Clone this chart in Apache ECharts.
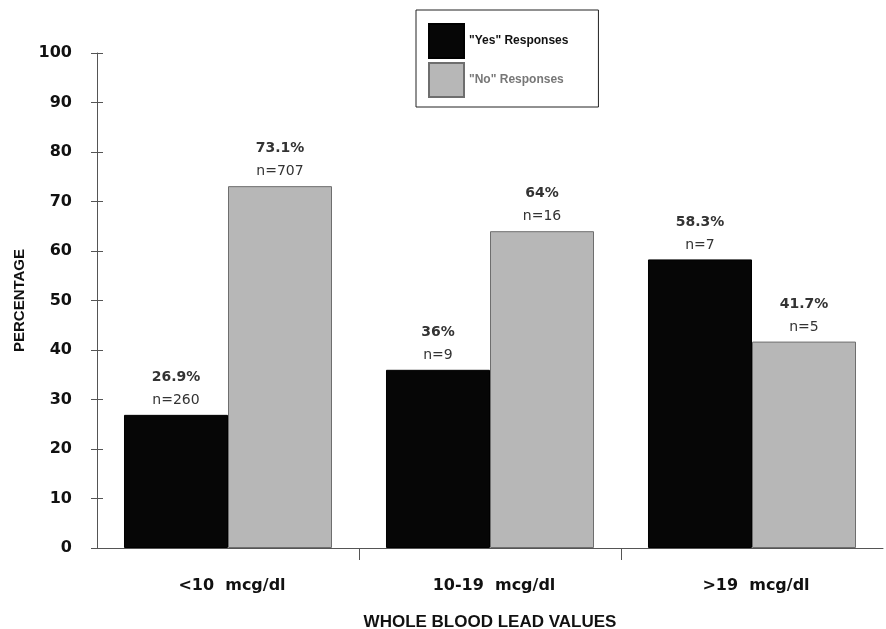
<!DOCTYPE html>
<html>
<head>
<meta charset="utf-8">
<script src="https://cdn.jsdelivr.net/npm/echarts@6/dist/echarts.min.js"></script>
<style>
  html, body { margin: 0; padding: 0; background: #fff; }
  #chart { width: 886px; height: 629px; }
</style>
</head>
<body>
<div id="chart"></div>
<script>
// Blood lead level groups and response shares
const categories = ['<10  mcg/dl', '10-19  mcg/dl', '>19  mcg/dl'];
const yesValues = [26.9, 36, 58.3];
const noValues = [73.1, 64, 41.7];
const yesCounts = [260, 9, 7];
const noCounts = [707, 16, 5];
const yTicks = [0, 10, 20, 30, 40, 50, 60, 70, 80, 90, 100];

const chart = echarts.init(document.getElementById('chart'), null, { renderer: 'canvas' });

const sans = '"Liberation Sans", Arial, sans-serif';
const wide = '"DejaVu Sans", Verdana, sans-serif';

function barLabel(counts) {
  return {
    show: true,
    position: 'top',
    distance: 3,
    formatter: p => '{p|' + p.value + '%}\n{n|n=' + counts[p.dataIndex] + '}',
    rich: {
      p: { fontFamily: wide, fontWeight: 'bold', fontSize: 14, color: '#333', lineHeight: 23 },
      n: { fontFamily: wide, fontSize: 14, color: '#333', lineHeight: 23 }
    }
  };
}

chart.setOption({
  animation: false,
  backgroundColor: '#fff',
  grid: { left: 97, top: 53, width: 786, height: 495, containLabel: false, outerBoundsMode: 'none' },
  legend: {
    orient: 'vertical',
    left: 416,
    top: 10,
    padding: [13, 30, 9, 12],
    itemGap: 3,
    itemWidth: 35,
    itemHeight: 34,
    icon: 'rect',
    borderColor: '#222',
    borderWidth: 1,
    textStyle: { fontFamily: sans, fontWeight: 'bold', fontSize: 12, color: '#111' },
    data: [
      { name: '"Yes" Responses' },
      { name: '"No" Responses', textStyle: { color: '#777' } }
    ]
  },
  xAxis: [
    {
      type: 'category',
      data: categories,
      name: 'WHOLE BLOOD LEAD VALUES',
      nameLocation: 'middle',
      nameGap: 66,
      nameTextStyle: { fontFamily: sans, fontWeight: 'bold', fontSize: 17, color: '#111' },
      axisLine: { lineStyle: { color: '#555', width: 1 } },
      axisTick: { show: false },
      axisLabel: {
        margin: 30,
        padding: [0, 0, 0, 8],
        fontFamily: wide,
        fontWeight: 'bold',
        fontSize: 16,
        color: '#111'
      }
    },
    {
      // boundary ticks between the groups only
      type: 'value',
      position: 'bottom',
      min: 0,
      max: 3,
      interval: 1,
      axisLine: { show: false },
      axisTick: { show: true, length: 12, customValues: [1, 2], lineStyle: { color: '#555' } },
      axisLabel: { show: false },
      splitLine: { show: false }
    }
  ],
  yAxis: [
    {
      type: 'value',
      min: 0,
      max: 100,
      interval: 10,
      name: 'PERCENTAGE',
      nameLocation: 'middle',
      nameGap: 70,
      nameTextStyle: { fontFamily: sans, fontWeight: 'bold', fontSize: 15, color: '#111' },
      axisLine: { show: true, lineStyle: { color: '#555', width: 1 } },
      axisTick: { show: true, length: 6, lineStyle: { color: '#555' } },
      splitLine: { show: false },
      axisLabel: {
        margin: 25,
        fontFamily: wide,
        fontWeight: 'bold',
        fontSize: 16,
        color: '#111',
        formatter: v => (yTicks.indexOf(v) >= 0 ? String(v) : '')
      }
    },
    {
      // same scale, ticks drawn on the inner side of the axis
      type: 'value',
      position: 'left',
      min: 0,
      max: 100,
      interval: 10,
      axisLine: { show: false },
      axisTick: { show: true, inside: true, length: 6, lineStyle: { color: '#555' } },
      axisLabel: { show: false },
      splitLine: { show: false }
    }
  ],
  series: [
    {
      name: '"Yes" Responses',
      type: 'bar',
      data: yesValues,
      barGap: '0%',
      barCategoryGap: '20.6%',
      itemStyle: { color: '#060606', borderColor: '#000', borderWidth: 1 },
      label: barLabel(yesCounts)
    },
    {
      name: '"No" Responses',
      type: 'bar',
      data: noValues,
      barGap: '0%',
      barCategoryGap: '20.6%',
      itemStyle: { color: '#b7b7b7', borderColor: '#6e6e6e', borderWidth: 1 },
      label: barLabel(noCounts)
    }
  ]
});
</script>
</body>
</html>
